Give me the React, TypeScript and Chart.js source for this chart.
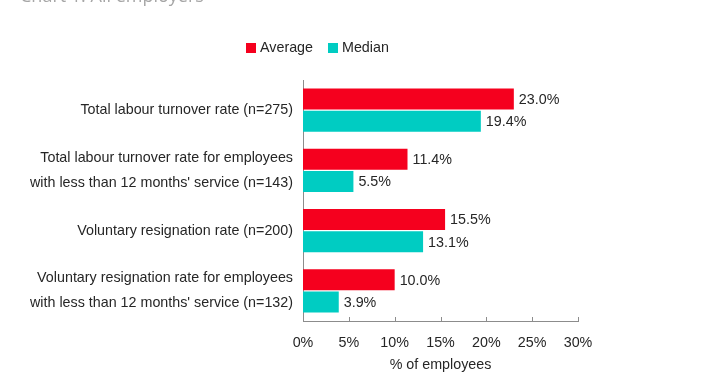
import React, { useEffect, useRef } from "react";
import { Chart, registerables } from "chart.js";

Chart.register(...registerables);

const TITLE = "Chart 1: All employers";
const categories: (string | string[])[] = [
  "Total labour turnover rate (n=275)",
  ["Total labour turnover rate for employees", "with less than 12 months' service (n=143)"],
  "Voluntary resignation rate (n=200)",
  ["Voluntary resignation rate for employees", "with less than 12 months' service (n=132)"],
];
const averageValues = [23.0, 11.4, 15.5, 10.0];
const medianValues = [19.4, 5.5, 13.1, 3.9];
const seriesNames = ["Average", "Median"];
const seriesColors = ["#F5001E", "#00CCC2"];
const xTicks = [0, 5, 10, 15, 20, 25, 30];
const xTitle = "% of employees";

const FONT = "'Liberation Sans', Arial, sans-serif";
const FS = 14.3;
const TEXT = "#262626";
const AXIS = "#8c8c8c";

const extrasPlugin = {
  id: "extras",
  afterDraw(chart: any) {
    const ctx = chart.ctx;
    const area = chart.chartArea;
    ctx.save();
    // cut-off title
    ctx.font = "18px 'Open Sans', sans-serif";
    ctx.fillStyle = "#a6a6a6";
    ctx.textBaseline = "alphabetic";
    ctx.textAlign = "left";
    ctx.fillText(TITLE, 20, 2);

    // inward tick marks on x axis
    const xs = chart.scales.x;
    ctx.strokeStyle = AXIS;
    ctx.lineWidth = 1;
    xs.ticks.forEach((t: any) => {
      const px = Math.round(xs.getPixelForValue(t.value)) + 0.5;
      ctx.beginPath();
      ctx.moveTo(px, area.bottom - 4);
      ctx.lineTo(px, area.bottom);
      ctx.stroke();
    });

    // data labels
    ctx.font = FS + "px " + FONT;
    ctx.fillStyle = TEXT;
    ctx.textBaseline = "middle";
    ctx.textAlign = "left";
    chart.data.datasets.forEach((ds: any, di: number) => {
      const meta = chart.getDatasetMeta(di);
      meta.data.forEach((bar: any, i: number) => {
        ctx.fillText(ds.data[i].toFixed(1) + "%", bar.x + 5, bar.y + 1);
      });
    });

    // legend
    let lx = 246;
    const ly = 43;
    seriesNames.forEach((name, i) => {
      ctx.fillStyle = seriesColors[i];
      ctx.fillRect(lx, ly, 10, 10);
      ctx.fillStyle = TEXT;
      ctx.textBaseline = "middle";
      ctx.fillText(name, lx + 14, ly + 5.5);
      lx += 14 + ctx.measureText(name).width + 15;
    });
    ctx.restore();
  },
};

export default function App() {
  const ref = useRef<HTMLCanvasElement>(null);
  useEffect(() => {
    if (!ref.current) return;
    const chart = new Chart(ref.current, {
      type: "bar",
      data: {
        labels: categories,
        datasets: [
          {
            label: seriesNames[0],
            data: averageValues,
            backgroundColor: seriesColors[0],
            categoryPercentage: 0.74,
            barPercentage: 0.94,
          },
          {
            label: seriesNames[1],
            data: medianValues,
            backgroundColor: seriesColors[1],
            categoryPercentage: 0.74,
            barPercentage: 0.94,
          },
        ],
      },
      options: {
        indexAxis: "y",
        responsive: false,
        animation: false,
        layout: { padding: { top: 80, right: 130, left: 0, bottom: 0 } },
        plugins: {
          legend: { display: false },
          tooltip: { enabled: false },
          title: { display: false },
        },
        scales: {
          x: {
            min: 0,
            max: 30,
            afterBuildTicks: (scale: any) => {
              scale.ticks = xTicks.map((v) => ({ value: v }));
            },
            afterFit: (scale: any) => {
              scale.height = 54;
            },
            ticks: {
              callback: (v: any) => v + "%",
              color: TEXT,
              font: { family: FONT, size: FS },
              padding: 13,
              maxRotation: 0,
            },
            grid: { display: false, drawTicks: false },
            border: { display: true, color: AXIS, width: 1 },
            title: {
              display: true,
              text: xTitle,
              color: TEXT,
              font: { family: FONT, size: FS },
              padding: { top: 0, bottom: 1 },
            },
          },
          y: {
            afterFit: (scale: any) => {
              scale.width = 303;
            },
            ticks: {
              color: TEXT,
              font: { family: FONT, size: FS, lineHeight: 1.75 },
              padding: 10,
            },
            grid: { display: false, drawTicks: false },
            border: { display: true, color: AXIS, width: 1 },
          },
        },
      },
      plugins: [extrasPlugin],
    } as any);
    return () => chart.destroy();
  }, []);
  return (
    <div style={{ position: "absolute", left: 0, top: 0, width: 708, height: 375, background: "#fff" }}>
      <canvas ref={ref} width={708} height={375} style={{ display: "block" }} />
    </div>
  );
}
